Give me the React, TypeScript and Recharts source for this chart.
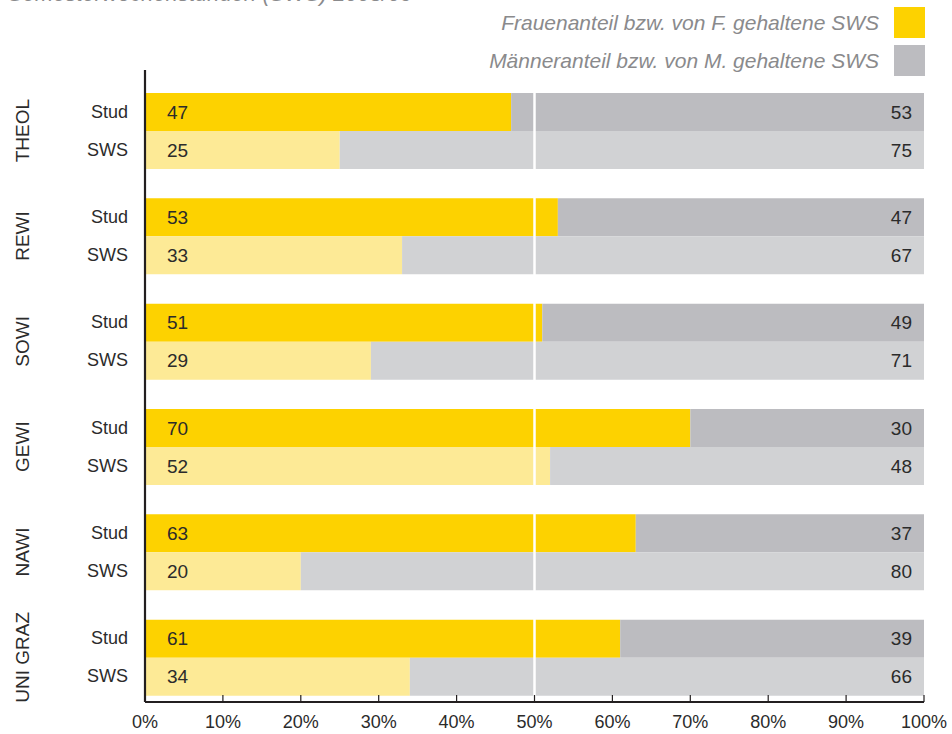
import React from 'react';
import { BarChart, Bar, XAxis, YAxis, ReferenceLine, LabelList } from 'recharts';

const groups = ['THEOL', 'REWI', 'SOWI', 'GEWI', 'NAWI', 'UNI GRAZ'];
const rowLabels = ['Stud', 'SWS'];
const studFemale = [47, 53, 51, 70, 63, 61];
const studMale = [53, 47, 49, 30, 37, 39];
const swsFemale = [25, 33, 29, 52, 20, 34];
const swsMale = [75, 67, 71, 48, 80, 66];
const xTicks = [0, 10, 20, 30, 40, 50, 60, 70, 80, 90, 100];
const title = 'Semesterwochenstunden (SWS) 2008/09';
const legendItems = [
  { label: 'Frauenanteil bzw. von F. gehaltene SWS', color: '#FDD200' },
  { label: 'Männeranteil bzw. von M. gehaltene SWS', color: '#BCBCC0' },
];

const data = groups.map((g, i) => ({
  group: g,
  studF: studFemale[i],
  studM: studMale[i],
  swsF: swsFemale[i],
  swsM: swsMale[i],
}));

const FONT = '"Liberation Sans", Arial, sans-serif';
const TEXT = '#2b2b2b';

const GroupTick = (props: any) => {
  const { y, payload } = props;
  return (
    <g>
      <text
        transform={`translate(22, ${y}) rotate(-90)`}
        textAnchor="middle"
        dominantBaseline="central"
        fontSize={19}
        fontFamily={FONT}
        fill={TEXT}
      >
        {payload.value}
      </text>
      <text x={128} y={y - 19} textAnchor="end" dominantBaseline="central" fontSize={18} fontFamily={FONT} fill={TEXT}>
        {rowLabels[0]}
      </text>
      <text x={128} y={y + 19} textAnchor="end" dominantBaseline="central" fontSize={18} fontFamily={FONT} fill={TEXT}>
        {rowLabels[1]}
      </text>
    </g>
  );
};

const XTick = (props: any) => {
  const { x, y, payload } = props;
  return (
    <g>
      <line x1={x} x2={x} y1={y - 7} y2={y} stroke="#231f20" strokeWidth={1.2} />
      <text x={x} y={y + 26} textAnchor="middle" fontSize={18} fontFamily={FONT} fill={TEXT}>
        {`${payload.value}%`}
      </text>
    </g>
  );
};

export default function App() {
  return (
    <div style={{ position: 'absolute', left: 0, top: 0, width: 952, height: 734, background: '#fff' }}>
      <div
        style={{
          position: 'absolute',
          left: 8,
          top: -19,
          fontFamily: FONT,
          fontStyle: 'italic',
          fontSize: 22,
          color: '#8a8a8c',
          whiteSpace: 'nowrap',
          lineHeight: '26px',
        }}
      >
        {title}
      </div>
      {legendItems.map((it, i) => (
        <div key={it.label}>
          <div
            style={{
              position: 'absolute',
              right: 952 - 879,
              top: 7 + i * 38,
              height: 31,
              lineHeight: '31px',
              fontFamily: FONT,
              fontStyle: 'italic',
              fontSize: 21,
              color: '#8a8a8c',
              whiteSpace: 'nowrap',
            }}
          >
            {it.label}
          </div>
          <div
            style={{
              position: 'absolute',
              left: 894,
              top: 7 + i * 38,
              width: 31,
              height: 31,
              background: it.color,
            }}
          />
        </div>
      ))}
      <div style={{ position: 'absolute', left: 0, top: 0 }}>
        <BarChart
          width={952}
          height={734}
          data={data}
          layout="vertical"
          margin={{ top: 70, right: 28, bottom: 0, left: 0 }}
          barCategoryGap={15}
          barGap={0}
        >
          <XAxis
            type="number"
            domain={[0, 100]}
            ticks={xTicks}
            interval={0}
            tickLine={false}
            tickSize={0}
            tickMargin={0}
            tick={<XTick />}
            axisLine={{ stroke: '#231f20', strokeWidth: 2.2 }}
            height={32}
            allowDataOverflow
          />
          <YAxis
            type="category"
            dataKey="group"
            width={145}
            padding={{ top: 8, bottom: -8 }}
            tickLine={false}
            tick={<GroupTick />}
            axisLine={{ stroke: '#231f20', strokeWidth: 2.2 }}
          />
          <Bar dataKey="studF" stackId="stud" fill="#FDD200" isAnimationActive={false}>
            <LabelList dataKey="studF" position="insideLeft" offset={22} fontSize={19} fontFamily={FONT} fill={TEXT} />
          </Bar>
          <Bar dataKey="studM" stackId="stud" fill="#BCBCC0" isAnimationActive={false}>
            <LabelList dataKey="studM" position="insideRight" offset={12} fontSize={19} fontFamily={FONT} fill={TEXT} />
          </Bar>
          <Bar dataKey="swsF" stackId="sws" fill="#FDEA96" isAnimationActive={false}>
            <LabelList dataKey="swsF" position="insideLeft" offset={22} fontSize={19} fontFamily={FONT} fill={TEXT} />
          </Bar>
          <Bar dataKey="swsM" stackId="sws" fill="#D1D2D4" isAnimationActive={false}>
            <LabelList dataKey="swsM" position="insideRight" offset={12} fontSize={19} fontFamily={FONT} fill={TEXT} />
          </Bar>
          <ReferenceLine x={50} stroke="#ffffff" strokeWidth={2.5} />
        </BarChart>
      </div>
    </div>
  );
}
